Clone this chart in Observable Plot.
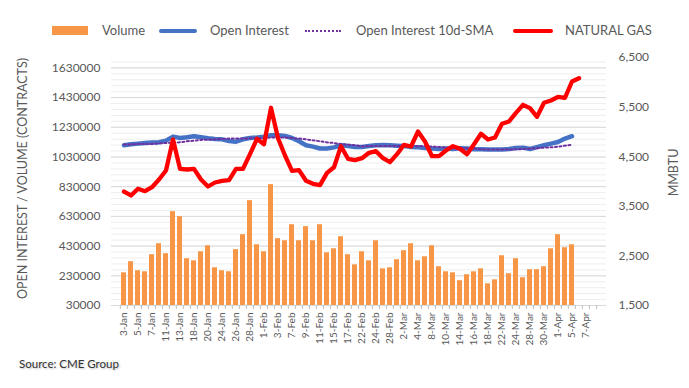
<!DOCTYPE html>
<html><head><meta charset="utf-8">
<script src="https://cdn.jsdelivr.net/npm/d3@7"></script>
<script src="https://cdn.jsdelivr.net/npm/@observablehq/plot@0.6"></script>
<style>
body{margin:0;background:#fff;font-family:Lato,"Open Sans",sans-serif;}
#wrap{position:relative;width:689px;height:388px;overflow:hidden;background:#fff}
#chart{position:absolute;left:0;top:0}
.lg{position:absolute;font-size:13px;color:#595959;line-height:16px;top:22px;white-space:nowrap}
.sw{position:absolute}
#source{position:absolute;left:19px;top:357px;font-size:11.5px;color:#333;text-shadow:1px 1px 2px rgba(0,0,0,0.25)}
</style></head>
<body>
<div id="wrap">
  <div id="chart"></div>
  <div class="sw" style="left:52px;top:26px;width:36px;height:9px;background:#F79646"></div>
  <div class="lg" style="left:102px">Volume</div>
  <div class="sw" style="left:159px;top:29px;width:38px;height:4px;border-radius:2px;background:#4472C4"></div>
  <div class="lg" style="left:210px">Open Interest</div>
  <div class="sw" style="left:305px;top:30px;width:36px;height:0;border-top:2px dotted #7030A0"></div>
  <div class="lg" style="left:356px">Open Interest 10d-SMA</div>
  <div class="sw" style="left:513px;top:29px;width:40px;height:4px;border-radius:2px;background:#FF0000"></div>
  <div class="lg" style="left:565px">NATURAL GAS</div>
  <div id="source">Source: CME Group</div>
</div>
<script>
const dates = ["3-Jan","4-Jan","5-Jan","6-Jan","7-Jan","10-Jan","11-Jan","12-Jan","13-Jan","14-Jan",
"18-Jan","19-Jan","20-Jan","21-Jan","24-Jan","25-Jan","26-Jan","27-Jan","28-Jan","31-Jan",
"1-Feb","2-Feb","3-Feb","4-Feb","7-Feb","8-Feb","9-Feb","10-Feb","11-Feb","14-Feb",
"15-Feb","16-Feb","17-Feb","18-Feb","22-Feb","23-Feb","24-Feb","25-Feb","28-Feb","1-Mar",
"2-Mar","3-Mar","4-Mar","7-Mar","8-Mar","9-Mar","10-Mar","11-Mar","14-Mar","15-Mar",
"16-Mar","17-Mar","18-Mar","21-Mar","22-Mar","23-Mar","24-Mar","25-Mar","28-Mar","29-Mar",
"30-Mar","31-Mar","1-Apr","4-Apr","5-Apr","6-Apr","7-Apr","8-Apr"];

const volume = [250000,325000,264000,257000,372000,446000,379000,662000,628000,345000,
331000,392000,432000,284000,264000,257000,406000,507000,736000,439000,
392000,844000,480000,466000,574000,466000,561000,466000,574000,385000,
412000,493000,372000,304000,392000,331000,466000,277000,284000,338000,
399000,446000,331000,358000,432000,291000,257000,250000,197000,237000,
257000,277000,176000,203000,365000,244000,345000,217000,271000,271000,
291000,412000,507000,419000,439000];

const openInterest = [1109000,1116000,1120000,1124000,1127000,1129000,1140000,1167000,1158000,1163000,
1170000,1163000,1156000,1151000,1149000,1138000,1133000,1149000,1158000,1161000,
1167000,1176000,1176000,1172000,1158000,1136000,1109000,1100000,1087000,1087000,
1095000,1109000,1104000,1097000,1097000,1104000,1109000,1111000,1109000,1106000,
1104000,1097000,1095000,1091000,1087000,1084000,1087000,1084000,1089000,1087000,
1082000,1082000,1080000,1080000,1080000,1084000,1091000,1093000,1084000,1097000,
1109000,1120000,1131000,1154000,1170000];

const openInterestSMA = [1114000,1115000,1117000,1118000,1118000,1122000,1124000,1127000,1129000,1136000,
1140000,1145000,1147000,1149000,1151000,1154000,1154000,1154000,1156000,1158000,
1158000,1161000,1163000,1161000,1158000,1154000,1149000,1142000,1136000,1129000,
1124000,1118000,1113000,1109000,1102000,1104000,1104000,1104000,1104000,1104000,
1104000,1104000,1102000,1102000,1100000,1097000,1095000,1093000,1091000,1089000,
1087000,1082000,1080000,1080000,1080000,1080000,1082000,1084000,1087000,1089000,
1093000,1095000,1100000,1106000,1113000];

const naturalGas = [3798,3718,3853,3805,3885,4040,4222,4847,4256,4242,
4256,4040,3899,3980,4014,4027,4256,4256,4551,4860,
4752,5486,4873,4524,4215,4228,4014,3953,3926,4175,
4288,4712,4457,4430,4470,4578,4611,4470,4389,4551,
4740,4706,5008,4806,4510,4510,4625,4712,4659,4551,
4750,4962,4847,4887,5163,5210,5385,5546,5479,5304,
5587,5633,5708,5688,6016,6083];

const leftTicks = [30000,230000,430000,630000,830000,1030000,1230000,1430000,1630000];
const leftDomain = [30000, 1700000];
const rightTicks = [1500,2500,3500,4500,5500,6500];
const rightDomain = [1500, 6500];
const leftTitle = "OPEN INTEREST / VOLUME (CONTRACTS)";
const rightTitle = "MMBTU";

const W = 689, H = 388, ML = 111, MR = 83, MT = 57, MB = 83;
const step = (W - ML - MR) / dates.length;

const gasToY = g => leftDomain[0] + (g - rightDomain[0]) * (leftDomain[1] - leftDomain[0]) / (rightDomain[1] - rightDomain[0]);
const yToGas = y => rightDomain[0] + (y - leftDomain[0]) * (rightDomain[1] - rightDomain[0]) / (leftDomain[1] - leftDomain[0]);

const volRows = volume.map((v, i) => ({date: dates[i], v}));
const oiRows = openInterest.map((v, i) => ({date: dates[i], v}));
const smaRows = openInterestSMA.map((v, i) => ({date: dates[i], v}));
const gasRows = naturalGas.map((g, i) => ({date: dates[i], v: gasToY(g)}));

const minorGrid = d3.range(leftDomain[0], leftDomain[1], 40000);
const majorGrid = leftTicks;
const labelDates = dates.filter((d, i) => i % 2 === 0);

const chart = Plot.plot({
  width: W, height: H,
  marginLeft: ML, marginRight: MR, marginTop: MT, marginBottom: MB,
  style: {fontFamily: "Lato, 'Open Sans', sans-serif", fontSize: "11px", color: "#595959", background: "transparent"},
  x: {type: "band", domain: dates, paddingInner: 0.27, paddingOuter: 0.135, axis: null},
  y: {domain: leftDomain, axis: null},
  marks: [
    Plot.ruleY(minorGrid, {stroke: "#eeeeee", strokeWidth: 1}),
    Plot.ruleY(majorGrid, {stroke: "#d9d9d9", strokeWidth: 1}),
    Plot.ruleY([leftDomain[0]], {stroke: "#d9d9d9"}),
    Plot.barY(volRows, {x: "date", y1: leftDomain[0], y2: "v", fill: "#F79646"}),
    Plot.line(oiRows, {x: "date", y: "v", stroke: "#4472C4", strokeWidth: 4.5, strokeLinejoin: "round", strokeLinecap: "round"}),
    Plot.line(smaRows, {x: "date", y: "v", stroke: "#7030A0", strokeWidth: 2, strokeDasharray: "2,2.5"}),
    Plot.line(gasRows, {x: "date", y: "v", stroke: "#FF0000", strokeWidth: 4.3, strokeLinejoin: "round", strokeLinecap: "round"}),
    Plot.axisY(leftTicks, {anchor: "left", tickSize: 0, tickPadding: 11, fontSize: 12, tickFormat: d => String(d), label: null, fill: "#595959"}),
    Plot.axisY(rightTicks.map(gasToY), {anchor: "right", tickSize: 0, tickPadding: 12, fontSize: 12, tickFormat: d => d3.format(",")(Math.round(yToGas(d))), label: null, fill: "#595959"}),
    Plot.axisX(dates, {tickSize: 4, tickFormat: () => "", dx: -step / 2, stroke: "#bfbfbf", label: null}),
    Plot.axisX([dates[dates.length - 1]], {tickSize: 4, tickFormat: () => "", dx: step / 2, stroke: "#bfbfbf", label: null}),
    Plot.axisX(labelDates, {tickSize: 0, tickPadding: 7, tickRotate: -90, fontSize: 10, label: null, fill: "#595959"}),
    Plot.text([leftTitle], {frameAnchor: "left", textAnchor: "middle", rotate: -90, dx: -89, dy: -3, fontSize: 12.5, fill: "#595959"}),
    Plot.text([rightTitle], {frameAnchor: "right", textAnchor: "middle", rotate: -90, dx: 67, dy: -9, fontSize: 12.5, fill: "#595959"})
  ]
});
document.getElementById("chart").appendChild(chart);
</script>
</body></html>
